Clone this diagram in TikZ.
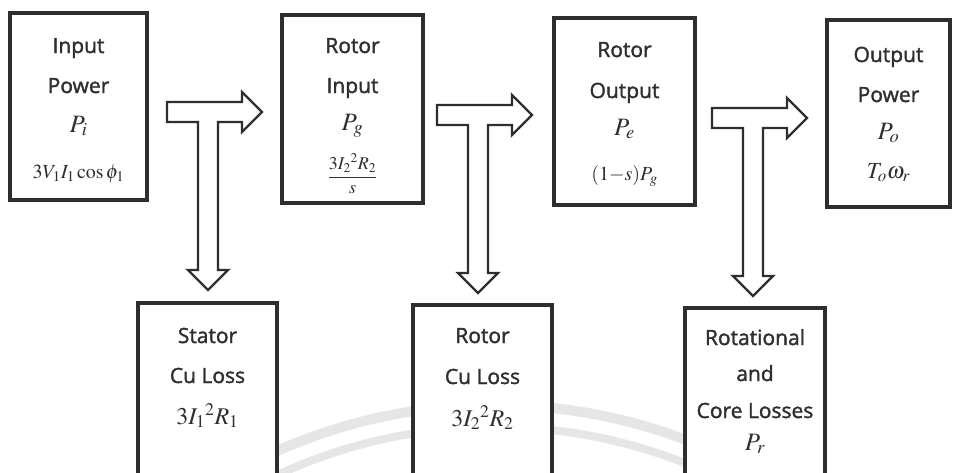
\documentclass[tikz,border=0pt]{standalone}
\usepackage{mathptmx}
\usepackage[no-math]{fontspec}
\setmainfont{Open Sans}
\newfontfamily\labelfont{Open Sans}[FakeBold=1.6]
\definecolor{ink}{HTML}{2E2E2E}
\definecolor{txt}{HTML}{2F2F2F}
\definecolor{seal}{HTML}{E6E6E6}
\tikzset{
  x=1pt, y=-1pt,
  box/.style={draw=ink, line width=3.4pt, fill=white, inner sep=0pt},
  lbl/.style={text=txt, anchor=base, inner sep=0pt, font=\labelfont\fontsize{21}{24}\selectfont},
  sym/.style={text=txt, anchor=base, inner sep=0pt, font=\fontsize{25}{28}\selectfont},
  eqn/.style={text=txt, anchor=base, inner sep=0pt, font=\fontsize{20}{24}\selectfont},
  blockarrow/.style={draw=ink, line width=2.4pt, fill=white, line join=miter},
  teearrow/.pic={
    \draw[blockarrow] (0,0) -- (75,0) -- (75,-10) -- (95,10) -- (75,30) -- (75,20)
      -- (51,20) -- (51,168) -- (61,168) -- (41,188) -- (21,168) -- (31,168)
      -- (31,20) -- (0,20) -- cycle;
  }
}
\begin{document}
\begin{tikzpicture}
\useasboundingbox (0,0) rectangle (957,472);
\clip (0,0) rectangle (957,472);
\fill[white] (0,0) rectangle (957,472);

% faint rings of the seal in the background
\draw[seal, line width=10pt] (495,943) circle[radius=538];
\draw[seal, line width=8pt] (495,943) circle[radius=516];

% main power boxes
\node[box, minimum width=137pt, minimum height=187pt] (input)  at (78.5,106.5) {};
\node[box, minimum width=141pt, minimum height=188pt] (gap)    at (352.5,109) {};
\node[box, minimum width=141pt, minimum height=187pt] (mech)   at (624.5,111.5) {};
\node[box, minimum width=123pt, minimum height=187pt] (output) at (888.5,113.5) {};

% loss boxes (running past the lower edge)
\node[box, minimum width=139pt, minimum height=190pt] (scu)  at (207.5,398) {};
\node[box, minimum width=139pt, minimum height=190pt] (rcu)  at (482.5,400) {};
\node[box, minimum width=140pt, minimum height=190pt] (rot)  at (755,403) {};

% split arrows between the stages
\pic (split1) at (167,102) {teearrow};
\pic (split2) at (437,105) {teearrow};
\pic (split3) at (712,108) {teearrow};

% input power
\node[lbl] (inA) at (78.5,53) {Input};
\node[lbl] (inB) at (78.5,93) {Power};
\node[sym] (inC) at (78.5,132) {$P_i$};
\node[eqn] (inD) at (78.5,178) {$3V_1I_1\cos\phi_1$};

% rotor input
\node[lbl] (gpA) at (352.5,53) {Rotor};
\node[lbl] (gpB) at (352.5,93) {Input};
\node[sym] (gpC) at (352.5,130) {$P_g$};
\node[eqn, anchor=center, font=\fontsize{18}{22}\selectfont] (gpD) at (352.5,174) {$\displaystyle\frac{3I_2{}^2R_2}{s}$};

% rotor output
\node[lbl] (mcA) at (624.5,57) {Rotor};
\node[lbl] (mcB) at (624.5,98) {Output};
\node[sym] (mcC) at (624.5,135) {$P_e$};
\node[eqn] (mcD) at (624.5,180) {$(1{-}s)P_g$};

% output power
\node[lbl] (opA) at (888.5,62) {Output};
\node[lbl] (opB) at (888.5,102) {Power};
\node[sym] (opC) at (888.5,139) {$P_o$};
\node[eqn, font=\fontsize{23}{26}\selectfont] (opD) at (888.5,178) {$T_o\omega_r$};

% stator copper loss
\node[lbl] (scA) at (207.5,343) {Stator};
\node[lbl] (scB) at (207.5,383) {Cu Loss};
\node[eqn, font=\fontsize{24}{26}\selectfont] (scC) at (207.5,424) {$3I_1{}^2R_1$};

% rotor copper loss
\node[lbl] (rcA) at (482.5,343) {Rotor};
\node[lbl] (rcB) at (482.5,384) {Cu Loss};
\node[eqn, font=\fontsize{24}{26}\selectfont] (rcC) at (482.5,426) {$3I_2{}^2R_2$};

% rotational and core losses
\node[lbl] (rtA) at (755,345) {Rotational};
\node[lbl] (rtB) at (755,381) {and};
\node[lbl] (rtC) at (755,418) {Core Losses};
\node[sym] (rtD) at (755,450) {$P_r$};
\end{tikzpicture}
\end{document}
